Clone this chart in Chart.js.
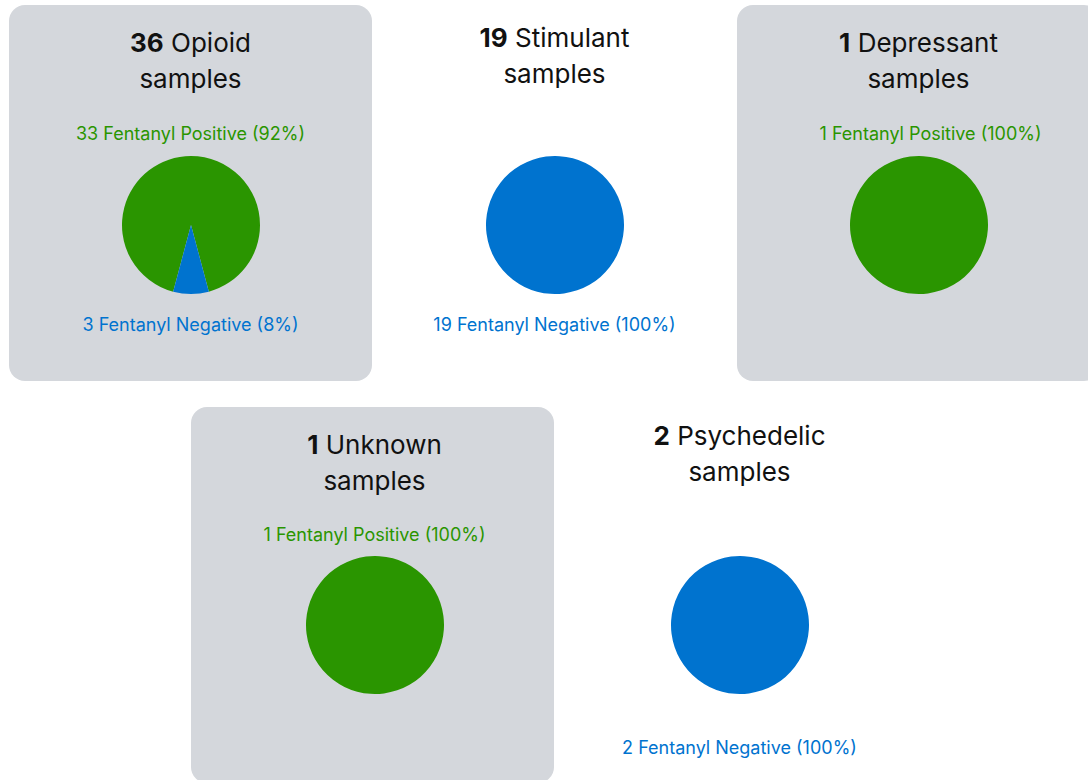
<!DOCTYPE html>
<html>
<head>
<meta charset="utf-8">
<script src="https://cdn.jsdelivr.net/npm/chart.js@4.4.1/dist/chart.umd.min.js"></script>
<style>
  html, body { margin: 0; padding: 0; background: #ffffff; overflow: hidden; }
  body { width: 1088px; height: 780px; position: relative; font-family: Inter, "Noto Sans", sans-serif; }
  .panel { position: absolute; width: 363px; height: 376px; border-radius: 16px; }
  .panel.shaded { background: #d4d7dc; }
  .title { position: absolute; left: 0; width: 100%; text-align: center; font-size: 26px; line-height: 36px; color: #111; }
  .title b { font-weight: 700; }
  .lbl { position: absolute; left: 0; width: 100%; text-align: center; font-size: 18px; line-height: 20px; white-space: pre; }
  .pie { position: absolute; }
</style>
</head>
<body>
<script>
// ---- data ----
const categories = ['Opioid', 'Stimulant', 'Depressant', 'Unknown', 'Psychedelic'];
const totalSamples = [36, 19, 1, 1, 2];
const positiveCounts = [33, 0, 1, 1, 0];
const negativeCounts = [3, 19, 0, 0, 2];
const positivePercents = ['92%', '0%', '100%', '100%', '0%'];
const negativePercents = ['8%', '100%', '0%', '0%', '100%'];
const sliceLabels = ['Fentanyl Positive', 'Fentanyl Negative'];

// ---- style / layout ----
const GREEN = '#2a9500';
const BLUE = '#0073cf';
const panelLayout = [
  { left: 9,   top: 5,   shaded: true,  titleY: 20, posY: 129, pieY: 220, negY: 320, dx: 0, lblDx: 0 },
  { left: 373, top: 5,   shaded: false, titleY: 15, posY: 129, pieY: 220, negY: 320, dx: 0, lblDx: 0 },
  { left: 737, top: 5,   shaded: true,  titleY: 20, posY: 129, pieY: 220, negY: 320, dx: 0, lblDx: 12 },
  { left: 191, top: 407, shaded: true,  titleY: 20, posY: 128, pieY: 218, negY: 320, dx: 2, lblDx: 0 },
  { left: 558, top: 407, shaded: false, titleY: 11, posY: 128, pieY: 218, negY: 341, dx: 0, lblDx: 0 }
];
const R = 69;

categories.forEach((cat, i) => {
  const L = panelLayout[i];
  const p = document.createElement('div');
  p.className = 'panel' + (L.shaded ? ' shaded' : '');
  p.style.left = L.left + 'px';
  p.style.top = L.top + 'px';
  document.body.appendChild(p);

  const t = document.createElement('div');
  t.className = 'title';
  t.style.top = L.titleY + 'px';
  t.style.left = L.dx + 'px';
  t.innerHTML = '<b>' + totalSamples[i] + '</b> ' + cat + '<br>samples';
  p.appendChild(t);

  if (positiveCounts[i] > 0) {
    const a = document.createElement('div');
    a.className = 'lbl';
    a.style.top = (L.posY - 10) + 'px';
    a.style.left = (L.dx + L.lblDx) + 'px';
    a.style.color = GREEN;
    a.textContent = positiveCounts[i] + ' ' + sliceLabels[0] + ' (' + positivePercents[i] + ')';
    p.appendChild(a);
  }
  if (negativeCounts[i] > 0) {
    const b = document.createElement('div');
    b.className = 'lbl';
    b.style.top = (L.negY - 10) + 'px';
    b.style.left = (L.dx + L.lblDx) + 'px';
    b.style.color = BLUE;
    b.textContent = negativeCounts[i] + ' ' + sliceLabels[1] + ' (' + negativePercents[i] + ')';
    p.appendChild(b);
  }

  const c = document.createElement('canvas');
  c.className = 'pie';
  c.width = 2 * R; c.height = 2 * R;
  c.style.width = 2 * R + 'px'; c.style.height = 2 * R + 'px';
  c.style.left = (363 / 2 - R + L.dx) + 'px';
  c.style.top = (L.pieY - R) + 'px';
  p.appendChild(c);

  new Chart(c, {
    type: 'pie',
    data: {
      labels: sliceLabels,
      datasets: [{
        data: [positiveCounts[i], negativeCounts[i]],
        backgroundColor: [GREEN, BLUE],
        borderWidth: 0
      }]
    },
    options: {
      responsive: false,
      animation: false,
      rotation: 195,
      layout: { padding: 0 },
      plugins: { legend: { display: false }, tooltip: { enabled: false }, title: { display: false } }
    }
  });
});
</script>
</body>
</html>
